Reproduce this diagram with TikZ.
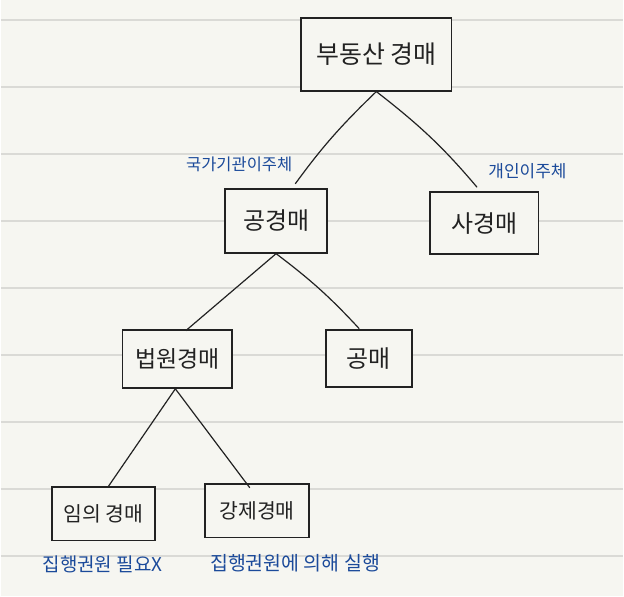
\documentclass[tikz,border=0pt]{standalone}
\usepackage{fontspec}
\setmainfont{Noto Sans CJK KR}
\definecolor{paper}{HTML}{F6F6F1}
\definecolor{rule}{HTML}{DADAD6}
\definecolor{ink}{HTML}{222222}
\definecolor{pen}{HTML}{1B4A9A}
\usetikzlibrary{positioning}

\begin{document}
\begin{tikzpicture}[x=1pt,y=-1pt,
    box/.style={draw=ink, line width=1.6pt, fill=paper, inner sep=0pt,
                font=\fontsize{24}{26}\selectfont\color{ink}},
    note/.style={font=\fontsize{17}{19}\selectfont\color{pen}, inner sep=0pt},
    link/.style={draw=ink, line width=1.2pt}]

  %% paper
  \fill[paper] (0,0) rectangle (624,598);
  \foreach \k in {0,...,8}
    \draw[rule, line width=1.6pt] (0,20+67.2*\k) -- (624,20+67.2*\k);

  %% Level 0
  \node[box, minimum width=151pt, minimum height=73pt,
        font=\fontsize{25}{27}\selectfont\color{ink}]
    (root) at (376.5,54.5) {부동산 경매};

  %% Level 1
  \node[box, minimum width=102pt, minimum height=64pt]
    (gong) at (276,221.5) {공경매};
  \node[box, minimum width=109pt, minimum height=62pt]
    (sa) at (484.5,223.7) {사경매};

  %% Level 2
  \node[box, minimum width=110pt, minimum height=58pt,
        font=\fontsize{23}{25}\selectfont\color{ink}]
    (court) at (177,360) {법원경매};
  \node[box, minimum width=86pt, minimum height=57pt]
    (pub) at (369,359.5) {공매};

  %% Level 3
  \node[box, minimum width=103pt, minimum height=53.5pt,
        font=\fontsize{20.5}{22}\selectfont\color{ink}]
    (vol) at (103,515) {임의 경매};
  \node[box, minimum width=104pt, minimum height=54pt,
        font=\fontsize{20.5}{22}\selectfont\color{ink}]
    (forced) at (257,512) {강제경매};

  %% Links
  \draw[link, shorten >=5.5pt] (root.south) to[bend right=5] ([xshift=16pt]gong.north);
  \draw[link, shorten >=5.5pt] (root.south) to[bend left=6] ([xshift=-3.5pt]sa.north);
  \draw[link, shorten >=-2pt] (gong.south) -- ([xshift=10pt]court.north);
  \draw[link, shorten >=1pt] (gong.south) to[bend left=5] ([xshift=-9pt]pub.north);
  \draw[link] ([xshift=-2pt]court.south) -- ([xshift=5pt]vol.north);
  \draw[link, shorten >=-6pt] ([xshift=-2pt]court.south) -- ([xshift=-11pt]forced.north);

  %% Notes
  \node[note, font=\fontsize{16.5}{18}\selectfont\color{pen}]
    (n1) at (239,165) {국가기관이주체};
  \node[note] (n2) at (528,172) {개인이주체};
  \node[note, font=\fontsize{19}{21}\selectfont\color{pen}]
    (n3) at (102,566) {집행권원 필요X};
  \node[note, font=\fontsize{19.5}{21}\selectfont\color{pen}]
    (n4) at (295,565) {집행권원에 의해 실행};

\end{tikzpicture}
\end{document}
